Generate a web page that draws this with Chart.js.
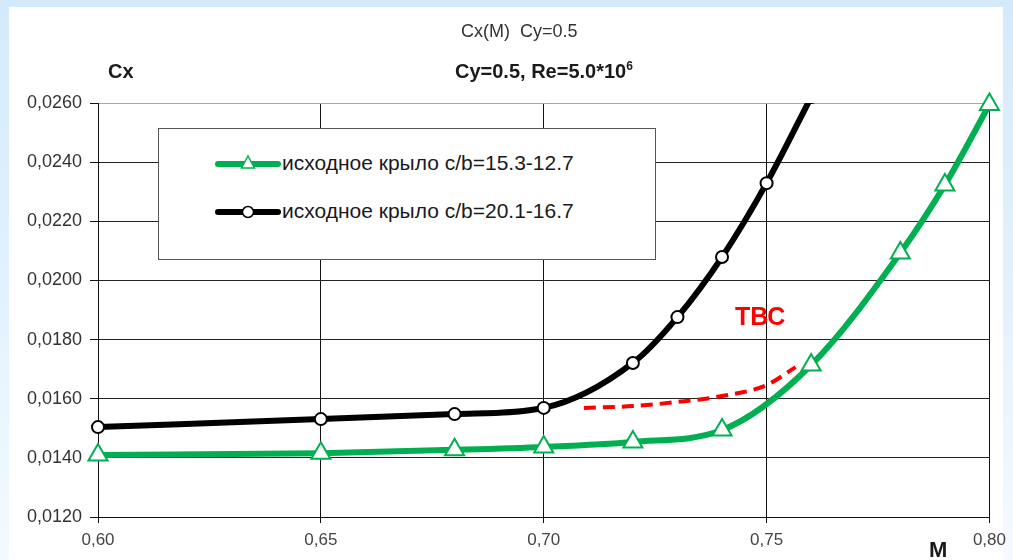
<!DOCTYPE html>
<html lang="ru">
<head>
<meta charset="UTF-8">
<title>Cx(M) Cy=0.5</title>
<style>
  body {
    margin: 0;
    width: 1013px;
    height: 560px;
    overflow: hidden;
    background: linear-gradient(to bottom, #d4eafb 0%, #e2f1fd 50%, #f5faff 100%);
    font-family: "Liberation Sans", Arial, sans-serif;
  }
  .panel {
    position: absolute;
    left: 9px;
    top: 7px;
    width: 994px;
    height: 553px;
    background: #fff;
  }
  #chart {
    position: absolute;
    left: 0;
    top: 0;
  }
  .txt {
    position: absolute;
    white-space: nowrap;
    line-height: 1;
    color: #1a1a1a;
  }
  .title-top { left: 461px; top: 22px; font-size: 18px; color: #333; }
  .cx-label { left: 108px; top: 61px; font-size: 20px; font-weight: bold; }
  .subtitle { left: 455px; top: 61px; font-size: 20px; font-weight: bold; }
  .subtitle sup { font-size: 12px; vertical-align: 8px; line-height: 0; }
  .m-label { left: 929px; top: 539px; font-size: 22px; font-weight: bold; }
  .tbc { left: 735px; top: 304px; font-size: 25px; font-weight: bold; color: #ff0000; }

  .legend {
    position: absolute;
    left: 158px;
    top: 128px;
    width: 496px;
    height: 130px;
    background: #fff;
    border: 1px solid #555;
  }
  .legend .row {
    position: absolute;
    left: 56px;
    height: 24px;
    line-height: 24px;
    font-size: 21px;
    color: #1a1a1a;
    white-space: nowrap;
  }
  .legend svg { position: absolute; left: 0; top: 0; }
  .legend span { position: absolute; left: 67px; top: -1px; }
</style>
<script src="https://cdn.jsdelivr.net/npm/chart.js"></script>
</head>
<body>
<div class="panel"></div>
<canvas id="chart" width="1013" height="560"></canvas>

<div class="txt title-top">Cx(M)&nbsp; Cy=0.5</div>
<div class="txt cx-label">Cx</div>
<div class="txt subtitle">Cy=0.5, Re=5.0*10<sup>6</sup></div>
<div class="txt m-label">M</div>
<div class="txt tbc">ТВС</div>

<div class="legend">
  <div class="row" style="top:23px">
    <svg width="66" height="24">
      <line x1="3" y1="12" x2="63" y2="12" stroke="#00b050" stroke-width="6" stroke-linecap="round"/>
      <polygon points="33,4 39.5,16 26.5,16" fill="#fff" stroke="#00b050" stroke-width="1.5"/>
    </svg>
    <span>исходное крыло с/b=15.3-12.7</span>
  </div>
  <div class="row" style="top:71px">
    <svg width="66" height="24">
      <line x1="3" y1="12" x2="63" y2="12" stroke="#000" stroke-width="6" stroke-linecap="round"/>
      <circle cx="33" cy="12" r="5.5" fill="#fff" stroke="#000" stroke-width="1.5"/>
    </svg>
    <span>исходное крыло с/b=20.1-16.7</span>
  </div>
</div>

<script>
// original wing c/b=15.3-12.7 (green, triangles)
const machBase = [0.60, 0.65, 0.68, 0.70, 0.72, 0.74, 0.76, 0.78, 0.79, 0.80];
const cxBase = [0.01410, 0.01416, 0.01427, 0.01437, 0.01454, 0.01494, 0.01714, 0.02093, 0.02323, 0.02595];

// original wing c/b=20.1-16.7 (black, circles)
const machThick = [0.60, 0.65, 0.68, 0.70, 0.72, 0.73, 0.74, 0.75, 0.76];
const cxThick = [0.01504, 0.01531, 0.01548, 0.01569, 0.01721, 0.01876, 0.02079, 0.02329, 0.02620];

// TBC estimate (red dashed)
const machTbc = [0.709, 0.72, 0.73, 0.74, 0.75, 0.7565];
const cxTbc = [0.01569, 0.01575, 0.01589, 0.01609, 0.01646, 0.01707];

const machTicks = [0.60, 0.65, 0.70, 0.75, 0.80];
const cxTicks = [0.0120, 0.0140, 0.0160, 0.0180, 0.0200, 0.0220, 0.0240, 0.0260];

function toPoints(xs, ys) {
  return xs.map((x, i) => ({ x: x, y: ys[i] }));
}

const tickFont = { family: '"Liberation Sans", Arial, sans-serif', size: 17 };

const config = {
  type: 'line',
  data: {
    datasets: [
      {
        label: 'исходное крыло с/b=15.3-12.7',
        data: toPoints(machBase, cxBase),
        borderColor: '#00b050',
        borderWidth: 6,
        cubicInterpolationMode: 'monotone',
        pointStyle: 'triangle',
        pointRadius: 11,
        pointBorderWidth: 2,
        pointBorderColor: '#00b050',
        pointBackgroundColor: '#fff',
        clip: false
      },
      {
        label: 'исходное крыло с/b=20.1-16.7',
        data: toPoints(machThick, cxThick),
        borderColor: '#000',
        borderWidth: 6,
        cubicInterpolationMode: 'monotone',
        pointStyle: 'circle',
        pointRadius: 6,
        pointBorderWidth: 2,
        pointBorderColor: '#000',
        pointBackgroundColor: '#fff',
        clip: { left: 10, top: 0, right: 0, bottom: 10 }
      },
      {
        label: 'ТВС',
        data: toPoints(machTbc, cxTbc),
        borderColor: '#ff0000',
        borderWidth: 4,
        borderDash: [12, 7],
        cubicInterpolationMode: 'monotone',
        pointRadius: 0
      }
    ]
  },
  options: {
    responsive: false,
    animation: false,
    layout: { padding: { left: 0, top: 103, right: 23, bottom: 0 } },
    plugins: {
      legend: { display: false },
      tooltip: { enabled: false }
    },
    scales: {
      x: {
        type: 'linear',
        min: 0.60,
        max: 0.80,
        afterBuildTicks: (scale) => { scale.ticks = machTicks.map(v => ({ value: v })); },
        afterFit: (scale) => { scale.height = 43; },
        ticks: {
          font: tickFont,
          color: '#444',
          padding: 7,
          maxRotation: 0,
          callback: (v) => v.toFixed(2).replace('.', ',')
        },
        grid: { color: '#111', lineWidth: 1, tickLength: 6, tickColor: '#111' },
        border: { color: '#111', width: 1 }
      },
      y: {
        min: 0.012,
        max: 0.026,
        afterBuildTicks: (scale) => { scale.ticks = cxTicks.map(v => ({ value: v })); },
        afterFit: (scale) => { scale.width = 98; },
        ticks: {
          font: { family: '"Liberation Sans", Arial, sans-serif', size: 18 },
          color: '#333',
          padding: 8,
          callback: (v) => v.toFixed(4).replace('.', ',')
        },
        grid: {
          color: (ctx) => (ctx.tick && Math.abs(ctx.tick.value - 0.026) < 1e-9) ? '#a8a8a8' : '#222',
          lineWidth: 1,
          tickLength: 8,
          tickColor: '#111'
        },
        border: { color: '#111', width: 1 }
      }
    }
  }
};

new Chart(document.getElementById('chart'), config);
</script>
</body>
</html>
